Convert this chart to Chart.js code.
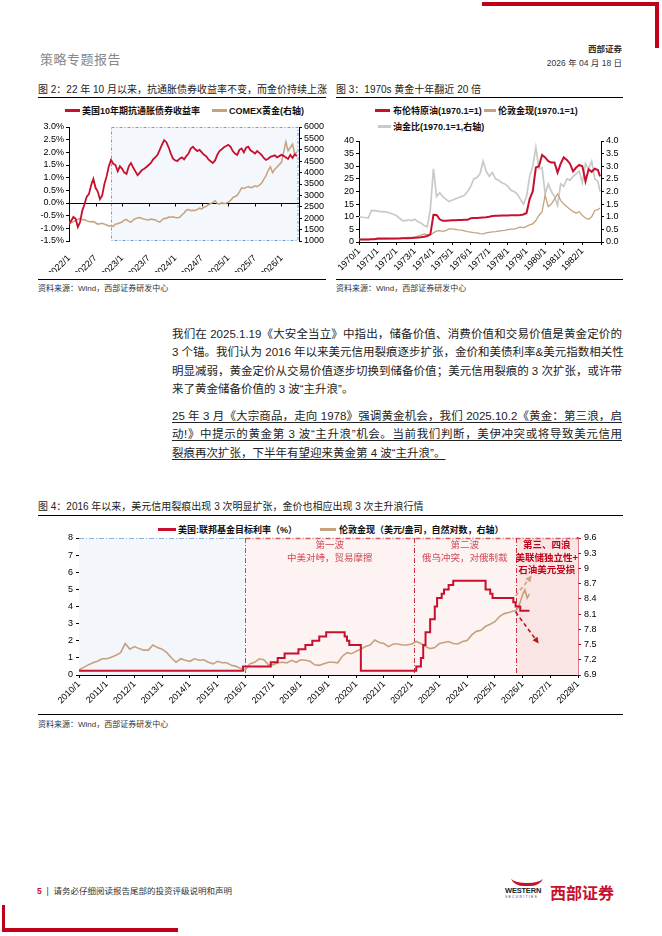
<!DOCTYPE html>
<html>
<head>
<meta charset="utf-8">
<script src="https://cdn.jsdelivr.net/npm/chart.js@4.4.1/dist/chart.umd.min.js"></script>
<style>
  body { margin: 0; width: 662px; height: 936px; position: relative; background: #fff; overflow: hidden;
         font-family: "Liberation Sans", "Noto Sans CJK SC", sans-serif; color: #222; }
  .abs { position: absolute; white-space: nowrap; }
  .rule { position: absolute; height: 1px; background: #000; }
  .title { font-size: 10px; color: #222; }
  .src { font-size: 8px; color: #333; }
  .lg { position: absolute; font-size: 9px; font-weight: bold; white-space: nowrap; color: #111; }
  .mk { position: absolute; height: 3px; }
  .para { position: absolute; left: 172px; width: 450px; font-size: 11.5px; color: #222; }
  .para div { height: 18.3px; line-height: 18.3px; white-space: nowrap; text-align: justify; text-align-last: justify; }
  .para div.last { text-align-last: left; }
  .para.u div { text-decoration: underline; text-underline-offset: 2px; }
  canvas { position: absolute; }
</style>
</head>
<body>

<!-- header -->
<div class="abs" style="left:482px;top:2px;width:177px;height:4px;background:#c00018"></div>
<div class="abs" style="left:655px;top:2px;width:4px;height:46px;background:#c00018"></div>
<div class="abs" style="left:40px;top:49px;font-size:13px;color:#888;letter-spacing:0.5px">策略专题报告</div>
<div class="abs" style="right:40px;top:42px;font-size:8.5px;font-weight:bold;color:#333">西部证券</div>
<div class="abs" style="right:40px;top:56px;font-size:8.5px;color:#333">2026 年 04 月 18 日</div>

<!-- figure 2 -->
<div class="abs title" style="left:38px;top:81px">图 2：22 年 10 月以来，抗通胀债券收益率不变，而金价持续上涨</div>
<div class="rule" style="left:38px;top:97px;width:288px"></div>
<div class="mk" style="left:65px;top:109px;width:15px;background:#c8102e"></div>
<div class="lg" style="left:82px;top:104px">美国10年期抗通胀债券收益率</div>
<div class="mk" style="left:212px;top:109px;width:15px;background:#c6a27c"></div>
<div class="lg" style="left:229px;top:104px">COMEX黄金(右轴)</div>
<canvas id="fig2" width="288" height="172" style="left:38px;top:100px"></canvas>
<div class="rule" style="left:38px;top:279px;width:288px"></div>
<div class="abs src" style="left:38px;top:282px">资料来源：Wind，西部证券研发中心</div>

<!-- figure 3 -->
<div class="abs title" style="left:336px;top:81px">图 3：1970s 黄金十年翻近 20 倍</div>
<div class="rule" style="left:336px;top:97px;width:287px"></div>
<div class="mk" style="left:375px;top:109px;width:15px;background:#c8102e"></div>
<div class="lg" style="left:393px;top:104px">布伦特原油(1970.1=1)</div>
<div class="mk" style="left:484px;top:109px;width:12px;background:#c6a27c"></div>
<div class="lg" style="left:498px;top:104px">伦敦金现(1970.1=1)</div>
<div class="mk" style="left:378px;top:125px;width:13px;background:#c9c9c9"></div>
<div class="lg" style="left:393px;top:120px">油金比(1970.1=1,右轴)</div>
<canvas id="fig3" width="287" height="142" style="left:336px;top:131px"></canvas>
<div class="rule" style="left:336px;top:279px;width:287px"></div>
<div class="abs src" style="left:336px;top:282px">资料来源：Wind，西部证券研发中心</div>

<!-- body text -->
<div class="para" style="top:325px">
  <div>我们在 2025.1.19《大安全当立》中指出，储备价值、消费价值和交易价值是黄金定价的</div>
  <div>3 个锚。我们认为 2016 年以来美元信用裂痕逐步扩张，金价和美债利率&amp;美元指数相关性</div>
  <div>明显减弱，黄金定价从交易价值逐步切换到储备价值；美元信用裂痕的 3 次扩张，或许带</div>
  <div class="last">来了黄金储备价值的 3 波“主升浪”。</div>
</div>
<div class="para u" style="top:407px">
  <div>25 年 3 月《大宗商品，走向 1978》强调黄金机会，我们 2025.10.2《黄金：第三浪，启</div>
  <div>动!》中提示的黄金第 3 波“主升浪”机会。当前我们判断，美伊冲突或将导致美元信用</div>
  <div class="last">裂痕再次扩张，下半年有望迎来黄金第 4 波“主升浪”。</div>
</div>

<!-- figure 4 -->
<div class="abs title" style="left:38px;top:498px">图 4：2016 年以来，美元信用裂痕出现 3 次明显扩张，金价也相应出现 3 次主升浪行情</div>
<div class="rule" style="left:38px;top:515px;width:585px"></div>
<div class="mk" style="left:158px;top:528px;width:18px;background:#c8102e"></div>
<div class="lg" style="left:178px;top:523px">美国:联邦基金目标利率（%）</div>
<div class="mk" style="left:320px;top:528px;width:16px;background:#c6a27c"></div>
<div class="lg" style="left:339px;top:523px">伦敦金现（美元/盎司，自然对数，右轴）</div>
<canvas id="fig4" width="585" height="188" style="left:38px;top:520px"></canvas>
<div class="rule" style="left:38px;top:714px;width:585px"></div>
<div class="abs src" style="left:38px;top:718px">资料来源：Wind，西部证券研发中心</div>

<!-- footer -->
<div class="abs" style="left:37px;top:884px;font-size:8.5px;color:#333"><span style="color:#c8102e;font-weight:bold">5</span> &nbsp;|&nbsp; 请务必仔细阅读报告尾部的投资评级说明和声明</div>
<svg class="abs" style="left:505px;top:878px" width="44" height="10" viewBox="0 0 44 10">
  <path d="M6 1 Q10 9 22 8 Q34 9 38 1 Q33 5 22 5 Q11 5 6 1 Z" fill="#c8102e"/>
</svg>
<div class="abs" style="left:505px;top:886px;font-size:7.5px;font-weight:bold;color:#222;letter-spacing:-0.2px">WESTERN</div>
<div class="abs" style="left:505px;top:895px;font-size:3.5px;color:#444;letter-spacing:1.2px">SECURITIES</div>
<div class="abs" style="left:550px;top:880px;font-size:16px;font-weight:bold;color:#c8102e">西部证券</div>
<div class="abs" style="left:2px;top:905px;width:3px;height:27px;background:#c00018"></div>
<div class="abs" style="left:2px;top:928px;width:176px;height:4px;background:#c00018"></div>

<script>
// ---------- Figure 2: 10y TIPS yield vs COMEX gold, half-monthly from 2022/1 ----------
const fig2Start = 2022;
const tipsYield = [
  -0.85, -0.70, -0.55, -0.62, -0.95, -0.75, -0.30, -0.05, 0.25, 0.35,
  0.70, 0.95, 0.60, 0.45, 0.15, 0.30, 0.75, 1.05, 1.45, 1.70,
  1.55, 1.50, 1.25, 1.45, 1.35, 1.20, 1.15, 1.45, 1.58, 1.40,
  1.25, 1.10, 1.20, 1.30, 1.35, 1.42, 1.50, 1.58, 1.72, 1.80,
  1.90, 2.10, 2.30, 2.48, 2.40, 2.20, 1.95, 1.75, 1.68, 1.66,
  1.75, 1.80, 1.72, 1.85, 1.95, 2.15, 2.22, 2.12, 2.05, 2.10,
  2.00, 1.90, 1.85, 1.72, 1.65, 1.58, 1.68, 1.90, 2.05, 2.12,
  2.20, 2.25, 2.30, 2.22, 2.05, 1.95, 1.90, 2.10, 2.15, 2.00,
  2.18, 2.22, 2.08, 2.02, 1.95, 2.05, 1.98, 1.90, 1.78, 1.70,
  1.75, 1.82, 1.85, 1.88, 1.80, 1.85, 1.90, 1.86, 1.80, 1.74,
  1.90, 1.78, 1.92, 1.85
];
const comexGold = [
  1830, 1800, 1850, 1900, 1950, 2000, 1930, 1940, 1880, 1850,
  1840, 1850, 1800, 1740, 1760, 1780, 1740, 1700, 1660, 1670,
  1640, 1750, 1760, 1800, 1830, 1920, 1940, 1860, 1830, 1920,
  1980, 2010, 2030, 1990, 1960, 1930, 1920, 1960, 1940, 1920,
  1870, 1830, 1920, 2000, 1990, 2050, 2040, 2060, 2030, 2020,
  2040, 2140, 2230, 2350, 2380, 2330, 2350, 2340, 2390, 2440,
  2410, 2480, 2520, 2590, 2640, 2690, 2760, 2650, 2620, 2680,
  2640, 2660, 2700, 2780, 2900, 2950, 3000, 3150, 3330, 3300,
  3350, 3390, 3340, 3360, 3420, 3380, 3450, 3530, 3700, 3850,
  4100, 4250, 4000, 4150, 4250, 4350, 4450, 4900, 5350, 4950,
  5100, 5250, 4800, 4900
];
const fig2Box = 2022.79;   // shaded window starts Oct 2022

// ---------- Figure 3: 1970s, every two months ----------
const fig3Start = 1970;
const brentOil = [
  1.00, 1.00, 1.02, 1.02, 1.05, 1.10,
  1.35, 1.38, 1.38, 1.38, 1.40, 1.40,
  1.40, 1.42, 1.45, 1.45, 1.50, 1.55,
  1.65, 1.75, 1.90, 2.10, 2.40, 3.00,
  10.8, 10.7, 9.00, 8.40, 8.40, 8.50,
  8.60, 8.60, 8.70, 8.70, 8.80, 8.80,
  9.40, 9.50, 9.50, 9.60, 9.70, 9.80,
  10.0, 10.3, 10.4, 10.4, 10.5, 10.5,
  10.5, 10.55, 10.6, 10.6, 10.7, 10.9,
  11.5, 17.0, 20.0, 29.5, 30.0, 34.5,
  33.5, 32.0, 31.5, 31.5, 27.5, 31.0,
  33.5, 32.5, 31.0, 28.0, 29.5, 30.5,
  30.0, 24.0, 28.8, 27.8, 29.0, 28.5, 26.0
];
const londonGold70 = [
  1.00, 1.00, 1.00, 1.00, 1.05, 1.05,
  1.05, 1.10, 1.10, 1.15, 1.20, 1.20,
  1.30, 1.40, 1.55, 1.70, 1.80, 1.80,
  1.85, 2.30, 2.70, 3.20, 2.80, 2.80,
  3.60, 4.40, 4.50, 4.20, 4.50, 5.20,
  5.20, 5.00, 4.80, 4.70, 4.40, 4.10,
  3.90, 3.70, 3.60, 3.30, 3.20, 3.60,
  3.80, 4.00, 4.10, 4.30, 4.50, 4.60,
  4.90, 5.10, 5.10, 5.50, 6.00, 5.60,
  6.20, 6.80, 7.20, 8.50, 10.5, 12.0,
  18.5, 14.0, 15.0, 17.0, 19.0, 16.5,
  15.0, 14.0, 13.0, 12.0, 11.5, 12.0,
  10.5, 9.50, 9.00, 10.0, 12.5, 12.8, 13.5
];
const oilGoldRatio = [
  1.00, 0.98, 0.97, 0.95, 1.25, 1.24,
  1.22, 1.20, 1.20, 1.18, 1.15, 1.10,
  1.05, 0.95, 0.85, 0.85, 0.88, 0.85,
  0.90, 0.80, 0.75, 0.65, 0.60, 1.30,
  2.90, 1.80, 1.95, 1.80, 1.70, 1.60,
  1.65, 1.70, 1.75, 1.80, 1.85, 2.00,
  2.20, 2.50, 2.55, 2.70, 3.20, 2.80,
  2.60, 2.75, 2.50, 2.45, 2.35, 2.30,
  2.20, 2.05, 2.00, 1.90, 1.70, 1.50,
  1.80, 2.60, 3.00, 3.75, 2.90, 2.95,
  1.90, 2.30, 2.00, 1.80, 1.45, 2.30,
  2.20, 2.50, 2.45, 2.60, 2.70, 2.80,
  2.35, 3.10, 2.90, 3.20, 2.50, 2.40, 2.00
];
const fig3LastDate = 1982.95;

// ---------- Figure 4: Fed funds target (upper bound) and ln(gold) ----------
const fedDates = ['2010/1', '2015/12', '2016/12', '2017/3', '2017/6', '2017/12', '2018/3', '2018/6', '2018/9',
  '2018/12', '2019/8', '2019/9', '2019/10', '2020/3', '2022/3', '2022/5', '2022/6', '2022/7', '2022/9',
  '2022/11', '2022/12', '2023/2', '2023/3', '2023/5', '2023/7', '2024/9', '2024/11', '2024/12',
  '2025/9', '2025/10', '2025/12', '2026/4'];
const fedRate = [0.25, 0.5, 0.75, 1.0, 1.25, 1.5, 1.75, 2.0, 2.25,
  2.5, 2.25, 2.0, 1.75, 0.25, 0.5, 1.0, 1.75, 2.5, 3.25,
  4.0, 4.5, 4.75, 5.0, 5.25, 5.5, 5.0, 4.75, 4.5,
  4.25, 4.0, 3.75, 3.75];
// every two months from 2010/1 to 2025/9, then monthly
const goldLnStart = 2010;
const goldLnBimonthly = [
  7.00, 7.05, 7.10, 7.14, 7.17, 7.22,
  7.22, 7.25, 7.29, 7.34, 7.52, 7.41,
  7.46, 7.42, 7.39, 7.39, 7.49, 7.44,
  7.41, 7.34, 7.24, 7.15, 7.22, 7.19,
  7.17, 7.22, 7.19, 7.20, 7.15, 7.12,
  7.17, 7.14, 7.14, 7.09, 7.07, 7.03,
  7.00, 7.12, 7.15, 7.22, 7.20, 7.10,
  7.10, 7.14, 7.15, 7.14, 7.19, 7.15,
  7.20, 7.19, 7.17, 7.10, 7.09, 7.12,
  7.15, 7.15, 7.14, 7.27, 7.34, 7.32,
  7.37, 7.41, 7.46, 7.49, 7.59, 7.54,
  7.52, 7.46, 7.51, 7.51, 7.49, 7.49,
  7.51, 7.56, 7.52, 7.46, 7.42, 7.44,
  7.52, 7.54, 7.56, 7.52, 7.51, 7.56,
  7.58, 7.69, 7.76, 7.78, 7.86, 7.90,
  7.95, 8.05, 8.11, 8.13, 8.16
];
const goldTailDates = ['2025/10', '2025/11', '2025/12', '2026/1', '2026/2', '2026/3', '2026/4'];
const goldTailLn = [8.16, 8.22, 8.34, 8.48, 8.58, 8.42, 8.50];

const waveBounds = ['2016/1', '2022/2', '2025/10'];
const waveTitles = ['第一波', '第二波', '第三、四浪'];
const waveNotes = [['中美对峙，贸易摩擦'], ['俄乌冲突，对俄制裁'], ['美联储独立性+', '石油美元受损']];
const upArrowDates = ['2025/10', '2026/5'];
const upArrowLn = [8.46, 8.86];
const downArrowDates = ['2025/10', '2026/8'];
const downArrowLn = [8.14, 7.52];

// ---------- helpers ----------
const RED = '#c8102e';
const TAN = '#c6a27c';

function ym(s) {
  const [y, m] = s.split('/').map(Number);
  return y + (m - 1) / 12;
}
function tickYM(v) {
  const y = Math.floor(v + 1e-6);
  return y + '/' + (Math.round((v - y) * 12) + 1);
}
function fixW(w) { return s => { s.width = w; }; }
function fixH(h) { return s => { s.height = h; }; }
const axisGrid = { drawOnChartArea: false, drawTicks: true, tickLength: 3, color: '#000' };

Chart.defaults.font.family = '"Liberation Sans", "Noto Sans CJK SC", sans-serif';
Chart.defaults.font.size = 9;
Chart.defaults.color = '#000';
Chart.defaults.animation = false;
Chart.defaults.plugins.legend.display = false;
Chart.defaults.plugins.tooltip.enabled = false;

// ---------- Figure 2 ----------
const fig2Deco = {
  id: 'fig2Deco',
  beforeDatasetsDraw(chart) {
    const { ctx, chartArea: a, scales: { x, y } } = chart;
    const bx = Math.round(x.getPixelForValue(fig2Box)) + 0.5;
    ctx.save();
    ctx.fillStyle = '#f4f7fc';
    ctx.fillRect(bx, a.top, a.right - bx, a.bottom - a.top);
    ctx.strokeStyle = '#6f9fd8';
    ctx.lineWidth = 1;
    ctx.setLineDash([3, 2, 1, 2]);
    ctx.strokeRect(bx, a.top + 0.5, a.right - bx - 1, a.bottom - a.top - 1);
    ctx.setLineDash([]);
    // zero line with its tick marks
    const y0 = Math.round(y.getPixelForValue(0)) + 0.5;
    ctx.strokeStyle = '#000';
    ctx.beginPath();
    ctx.moveTo(a.left, y0);
    ctx.lineTo(a.right, y0);
    x.ticks.forEach(t => {
      const px = Math.round(x.getPixelForValue(t.value)) + 0.5;
      ctx.moveTo(px, y0);
      ctx.lineTo(px, y0 + 3);
    });
    ctx.stroke();
    ctx.restore();
  }
};

new Chart(document.getElementById('fig2'), {
  type: 'line',
  data: {
    datasets: [
      { data: tipsYield.map((v, i) => ({ x: fig2Start + i / 24, y: v })), yAxisID: 'y',
        borderColor: RED, borderWidth: 1.8, pointRadius: 0 },
      { data: comexGold.map((v, i) => ({ x: fig2Start + i / 24, y: v })), yAxisID: 'y2',
        borderColor: TAN, borderWidth: 1.5, pointRadius: 0 }
    ]
  },
  options: {
    responsive: false,
    layout: { padding: { top: 27 } },
    scales: {
      x: { type: 'linear', min: 2022, max: 2026.33, afterFit: fixH(31),
           grid: { display: false }, border: { display: false },
           ticks: { stepSize: 0.5, includeBounds: false, autoSkip: false, maxRotation: 45, minRotation: 45,
                    padding: 4, callback: tickYM } },
      y: { position: 'left', min: -1.5, max: 3.0, afterFit: fixW(31), grid: axisGrid, border: { color: '#000' },
           ticks: { stepSize: 0.5, autoSkip: false, padding: 2, callback: v => v.toFixed(1) + '%' } },
      y2: { position: 'right', min: 1000, max: 6000, afterFit: fixW(27), grid: axisGrid, border: { color: '#000' },
            ticks: { stepSize: 500, autoSkip: false, padding: 2, callback: v => String(v) } }
    }
  },
  plugins: [fig2Deco]
});

// ---------- Figure 3 ----------
const fig3Dates = brentOil.map((v, i) => i < brentOil.length - 1 ? fig3Start + i / 6 : fig3LastDate);
new Chart(document.getElementById('fig3'), {
  type: 'line',
  data: {
    datasets: [
      { data: brentOil.map((v, i) => ({ x: fig3Dates[i], y: v })), yAxisID: 'y',
        borderColor: RED, borderWidth: 2, pointRadius: 0 },
      { data: londonGold70.map((v, i) => ({ x: fig3Dates[i], y: v })), yAxisID: 'y',
        borderColor: TAN, borderWidth: 1.3, pointRadius: 0 },
      { data: oilGoldRatio.map((v, i) => ({ x: fig3Dates[i], y: v })), yAxisID: 'y2',
        borderColor: '#c9c9c9', borderWidth: 1.7, pointRadius: 0 }
    ]
  },
  options: {
    responsive: false,
    layout: { padding: { top: 10 } },
    scales: {
      x: { type: 'linear', min: 1970, max: 1983, afterFit: fixH(31), grid: axisGrid, border: { color: '#000' },
           ticks: { stepSize: 1, autoSkip: false, maxRotation: 45, minRotation: 45, padding: 1,
                    callback: v => v < 1983 ? v + '/1' : '' } },
      y: { position: 'left', min: 0, max: 40, afterFit: fixW(23), grid: axisGrid, border: { color: '#000' },
           ticks: { stepSize: 5, autoSkip: false, padding: 2 } },
      y2: { position: 'right', min: 0, max: 4, afterFit: fixW(22), grid: axisGrid, border: { color: '#000' },
            ticks: { stepSize: 0.5, autoSkip: false, padding: 2, callback: v => v.toFixed(1) } }
    }
  }
});

// ---------- Figure 4 ----------
const goldDates = goldLnBimonthly.map((v, i) => goldLnStart + i / 6).concat(goldTailDates.map(ym));
const goldLn = goldLnBimonthly.concat(goldTailLn);

function drawArrow(ctx, x0, y0, x1, y1, color) {
  const ang = Math.atan2(y1 - y0, x1 - x0);
  ctx.save();
  ctx.strokeStyle = color;
  ctx.fillStyle = color;
  ctx.lineWidth = 1.6;
  ctx.setLineDash([4, 3]);
  ctx.beginPath();
  ctx.moveTo(x0, y0);
  ctx.lineTo(x1 - 5 * Math.cos(ang), y1 - 5 * Math.sin(ang));
  ctx.stroke();
  ctx.setLineDash([]);
  ctx.beginPath();
  ctx.moveTo(x1, y1);
  ctx.lineTo(x1 - 7 * Math.cos(ang - 0.45), y1 - 7 * Math.sin(ang - 0.45));
  ctx.lineTo(x1 - 7 * Math.cos(ang + 0.45), y1 - 7 * Math.sin(ang + 0.45));
  ctx.closePath();
  ctx.fill();
  ctx.restore();
}

const fig4Deco = {
  id: 'fig4Deco',
  beforeDatasetsDraw(chart) {
    const { ctx, chartArea: a, scales: { x } } = chart;
    const b = waveBounds.map(d => Math.round(x.getPixelForValue(ym(d))) + 0.5);
    const h = a.bottom - a.top;
    ctx.save();
    ctx.fillStyle = '#f3f6fb';
    ctx.fillRect(a.left, a.top, b[0] - a.left, h);
    ctx.fillStyle = '#fdf3f3';
    ctx.fillRect(b[0], a.top, b[2] - b[0], h);
    ctx.fillStyle = '#fae5e5';
    ctx.fillRect(b[2], a.top, a.right - b[2], h);
    ctx.lineWidth = 1;
    ctx.setLineDash([5, 2, 1, 2]);
    const top = a.top + 0.5;
    ctx.strokeStyle = '#8fb0da';
    ctx.beginPath(); ctx.moveTo(a.left, top); ctx.lineTo(b[0], top); ctx.stroke();
    ctx.strokeStyle = '#d05a5a';
    ctx.lineWidth = 1.5;
    ctx.beginPath(); ctx.moveTo(b[0], top); ctx.lineTo(a.right, top); ctx.stroke();
    ctx.lineWidth = 1;
    ctx.strokeStyle = '#6a6aa0';
    ctx.beginPath(); ctx.moveTo(b[0], a.top); ctx.lineTo(b[0], a.bottom); ctx.stroke();
    ctx.strokeStyle = '#c8343f';
    [b[1], b[2]].forEach(px => {
      ctx.beginPath(); ctx.moveTo(px, a.top); ctx.lineTo(px, a.bottom); ctx.stroke();
    });
    ctx.restore();
  },
  afterDatasetsDraw(chart) {
    const { ctx, chartArea: a, scales: { x, y2 } } = chart;
    drawArrow(ctx, x.getPixelForValue(ym(upArrowDates[0])), y2.getPixelForValue(upArrowLn[0]),
      x.getPixelForValue(ym(upArrowDates[1])), y2.getPixelForValue(upArrowLn[1]), '#c9a77f');
    drawArrow(ctx, x.getPixelForValue(ym(downArrowDates[0])), y2.getPixelForValue(downArrowLn[0]),
      x.getPixelForValue(ym(downArrowDates[1])), y2.getPixelForValue(downArrowLn[1]), '#c0101e');
    const edges = waveBounds.map(d => x.getPixelForValue(ym(d))).concat([a.right]);
    ctx.save();
    ctx.textAlign = 'center';
    ctx.textBaseline = 'middle';
    waveTitles.forEach((t, i) => {
      const cx = (edges[i] + edges[i + 1]) / 2;
      const bold = i === 2;
      ctx.fillStyle = bold ? '#c00018' : '#cf4b55';
      ctx.font = (bold ? 'bold ' : '') + '9.5px "Noto Sans CJK SC", sans-serif';
      ctx.fillText(t, cx, a.top + 6);
      waveNotes[i].forEach((n, j) => ctx.fillText(n, cx, a.top + 19 + j * 12));
    });
    ctx.restore();
  }
};

new Chart(document.getElementById('fig4'), {
  type: 'line',
  data: {
    datasets: [
      { data: fedRate.map((v, i) => ({ x: ym(fedDates[i]), y: v })), yAxisID: 'y', stepped: true,
        borderColor: RED, borderWidth: 2, pointRadius: 0 },
      { data: goldLn.map((v, i) => ({ x: goldDates[i], y: v })), yAxisID: 'y2',
        borderColor: TAN, borderWidth: 1.6, pointRadius: 0 }
    ]
  },
  options: {
    responsive: false,
    layout: { padding: { top: 18 } },
    scales: {
      x: { type: 'linear', min: 2010, max: 2028, afterFit: fixH(33), grid: axisGrid, border: { color: '#000' },
           ticks: { stepSize: 1, autoSkip: false, maxRotation: 45, minRotation: 45, padding: 1,
                    callback: v => v + '/1' } },
      y: { position: 'left', min: 0, max: 8, afterFit: fixW(41), grid: axisGrid, border: { color: '#000' },
           ticks: { stepSize: 1, autoSkip: false, padding: 3 } },
      y2: { position: 'right', min: 6.9, max: 9.6, afterFit: fixW(45),
            grid: { drawOnChartArea: false, drawTicks: true, tickLength: 3, color: '#c00018' },
            border: { color: '#c00018', width: 1.5 },
            ticks: { stepSize: 0.3, autoSkip: false, padding: 3, callback: v => String(Math.round(v * 10) / 10) } }
    }
  },
  plugins: [fig4Deco]
});
</script>
</body>
</html>
